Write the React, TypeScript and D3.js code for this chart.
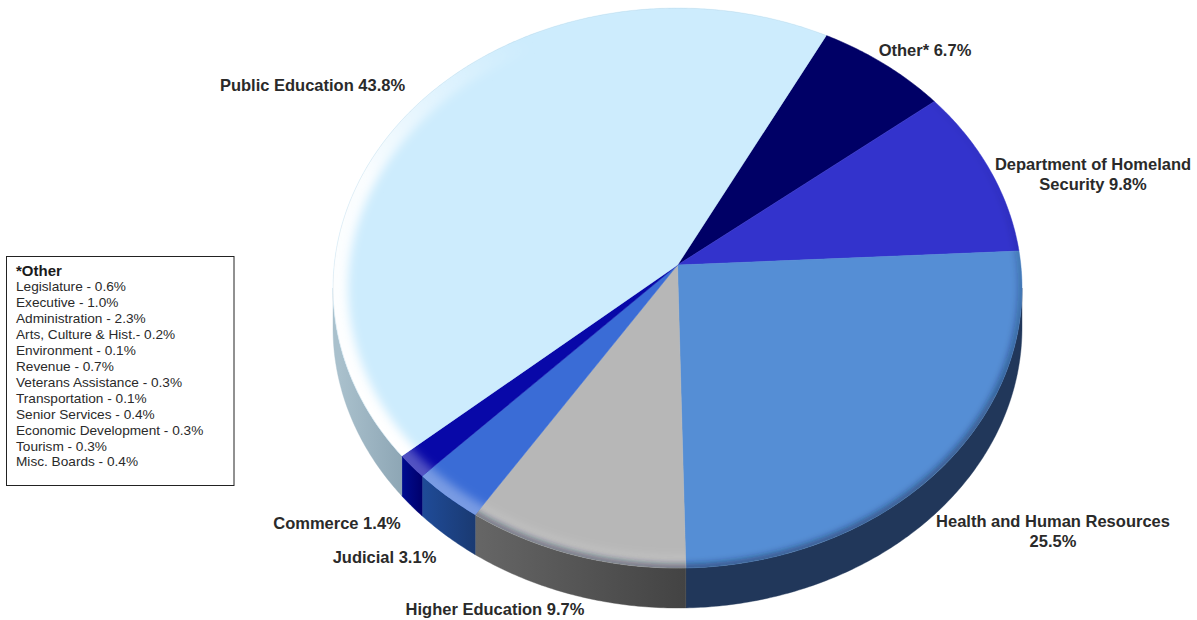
import React from "react";
import * as d3 from "d3";

const sliceNames = ["Other*", "Department of Homeland Security", "Health and Human Resources", "Higher Education", "Judicial", "Commerce", "Public Education"];
const sliceShares = [6.7, 9.8, 25.45, 9.6, 3.1, 1.4, 43.95];
const topColors = ["#000066", "#3333cc", "#558ed5", "#b7b7b7", "#3a6cd6", "#0808a8", "#cdecfd"];
const wallLight = ["#000066", "#222288", "#21375a", "#666666", "#1f4b98", "#000c90", "#a9c0cc"];
const wallDark = ["#000066", "#222288", "#21375a", "#434343", "#1a3a72", "#00006c", "#8aa3b2"];
const glow = [0, 0, 0, 0.15, 0.32, 0.3, 1];
const shade = [0, 0.35, 0.55, 0.55, 0, 0, 0];

const legendTitle = "*Other";
const legendItems = [
  "Legislature - 0.6%", "Executive - 1.0%", "Administration - 2.3%", "Arts, Culture & Hist.- 0.2%",
  "Environment - 0.1%", "Revenue - 0.7%", "Veterans Assistance - 0.3%", "Transportation - 0.1%",
  "Senior Services - 0.4%", "Economic Development - 0.3%", "Tourism - 0.3%", "Misc. Boards - 0.4%",
];

const labelLines = [
  ["Public Education 43.8%"], ["Other* 6.7%"], ["Department of Homeland", "Security 9.8%"],
  ["Health and Human Resources", "25.5%"], ["Higher Education 9.7%"], ["Judicial 3.1%"], ["Commerce 1.4%"],
];
const labelX = [312.5, 925, 1093, 1053, 495, 384.5, 337];
const labelY = [91, 56, 170, 527, 615, 563, 529];

const W = 1197, H = 620, DEPTH = 40, TILT = -0.082;
const sx = d3.scaleLinear().domain([-1, 1]).range([333, 1022]);
const sy = d3.scaleLinear().domain([-1, 1]).range([8, 568]);
const START = (27.7 * Math.PI) / 180;

function rim(theta: number): [number, number] {
  const u = Math.sin(theta), v = -Math.cos(theta), k = 1 + TILT * v;
  return [sx((u * Math.sqrt(1 - TILT * TILT)) / k), sy((v + TILT) / k)];
}
const apex: [number, number] = [sx(0), sy(TILT)];
const line = d3.line<[number, number]>();
function arcPts(a: number, b: number): [number, number][] {
  const n = Math.max(2, Math.ceil(Math.abs(b - a) / 0.01));
  return d3.range(n + 1).map((i) => rim(a + ((b - a) * i) / n));
}
const WALL_A = (94.7 * Math.PI) / 180;
const WALL_B = (265.3 * Math.PI) / 180;

export default function App() {
  const arcs = d3.pie<number>().sort(null).startAngle(START).endAngle(START + 2 * Math.PI)(sliceShares);
  return (
    <svg width={W} height={H} viewBox={`0 0 ${W} ${H}`} style={{ position: "absolute", left: 0, top: 0, display: "block" }} fontFamily="'Liberation Sans', Arial, sans-serif">
      <defs>
        <filter id="blurGlow" x="-20%" y="-20%" width="140%" height="140%"><feGaussianBlur stdDeviation="5" /></filter>
        <filter id="blurShade" x="-20%" y="-20%" width="140%" height="140%"><feGaussianBlur stdDeviation="3" /></filter>
        <linearGradient id="glowGrad" gradientUnits="userSpaceOnUse" x1="370" y1="440" x2="560" y2="60">
          <stop offset="0" stopColor="#fff" stopOpacity="1" />
          <stop offset="0.55" stopColor="#fff" stopOpacity="0.9" />
          <stop offset="1" stopColor="#fff" stopOpacity="0" />
        </linearGradient>
        <linearGradient id="shadeGrad" gradientUnits="userSpaceOnUse" x1="1020" y1="420" x2="1000" y2="150">
          <stop offset="0" stopColor="#0f1f40" stopOpacity="0.9" />
          <stop offset="1" stopColor="#0f1f40" stopOpacity="0.1" />
        </linearGradient>
        {arcs.map((a, i) => {
          const wedge = [apex, ...arcPts(a.startAngle, a.endAngle)];
          return (
            <React.Fragment key={i}>
              <clipPath id={`clip${i}`}><path d={line(wedge) + "Z"} /></clipPath>
              <linearGradient id={`wall${i}`} gradientUnits="userSpaceOnUse" x1={i === 6 ? 340 : rim(a.endAngle)[0]} y1="0" x2={i === 6 ? 410 : rim(a.startAngle)[0]} y2="0">
                <stop offset="0" stopColor={wallLight[i]} />
                <stop offset="1" stopColor={wallDark[i]} />
              </linearGradient>
            </React.Fragment>
          );
        })}
      </defs>

      {arcs.map((a, i) => {
        const from = Math.max(a.startAngle, WALL_A), to = Math.min(a.endAngle, WALL_B);
        if (to <= from) return null;
        const top = arcPts(from, to);
        const bottom = top.map(([x, y]) => [x, y + DEPTH] as [number, number]).reverse();
        return <path key={i} d={line([...top, ...bottom]) + "Z"} fill={`url(#wall${i})`} stroke={`url(#wall${i})`} strokeWidth={0.4} />;
      })}

      {arcs.map((a, i) => {
        const wedge = [apex, ...arcPts(a.startAngle, a.endAngle)];
        const edge = line(arcPts(a.startAngle - 0.05, a.endAngle + 0.05)) as string;
        return (
          <g key={i}>
            <path d={line(wedge) + "Z"} fill={topColors[i]} stroke={topColors[i]} strokeWidth={0.5} />
            <g clipPath={`url(#clip${i})`}>
              {glow[i] > 0 && <path d={edge} fill="none" stroke="url(#glowGrad)" strokeOpacity={glow[i]} strokeWidth={i === 6 ? 30 : 24} filter="url(#blurGlow)" />}
              {shade[i] > 0 && <path d={edge} fill="none" stroke="url(#shadeGrad)" strokeOpacity={shade[i]} strokeWidth={8} filter="url(#blurShade)" />}
            </g>
            {i === 6 && <path d={edge} fill="none" clipPath={`url(#clip${i})`} stroke="#9fb4bf" strokeOpacity={0.3} strokeWidth={0.8} />}
          </g>
        );
      })}

      {labelLines.map((ls, i) => (
        <text key={i} x={labelX[i]} y={labelY[i]} textAnchor="middle" fontSize={16.5} fontWeight="bold" fill="#2a2a2a">
          {ls.map((t, j) => <tspan key={j} x={labelX[i]} dy={j === 0 ? 0 : 19.5}>{t}</tspan>)}
        </text>
      ))}

      <rect x={6.5} y={256.5} width={227.5} height={229} fill="#fff" stroke="#222" strokeWidth={1} />
      <text x={16} y={276} fontSize={15} fontWeight="bold" fill="#1a1a1a">{legendTitle}</text>
      {legendItems.map((t, i) => (
        <text key={t} x={16} y={291 + i * 15.95} fontSize={13.65} fill="#2a2a2a">{t}</text>
      ))}
    </svg>
  );
}
